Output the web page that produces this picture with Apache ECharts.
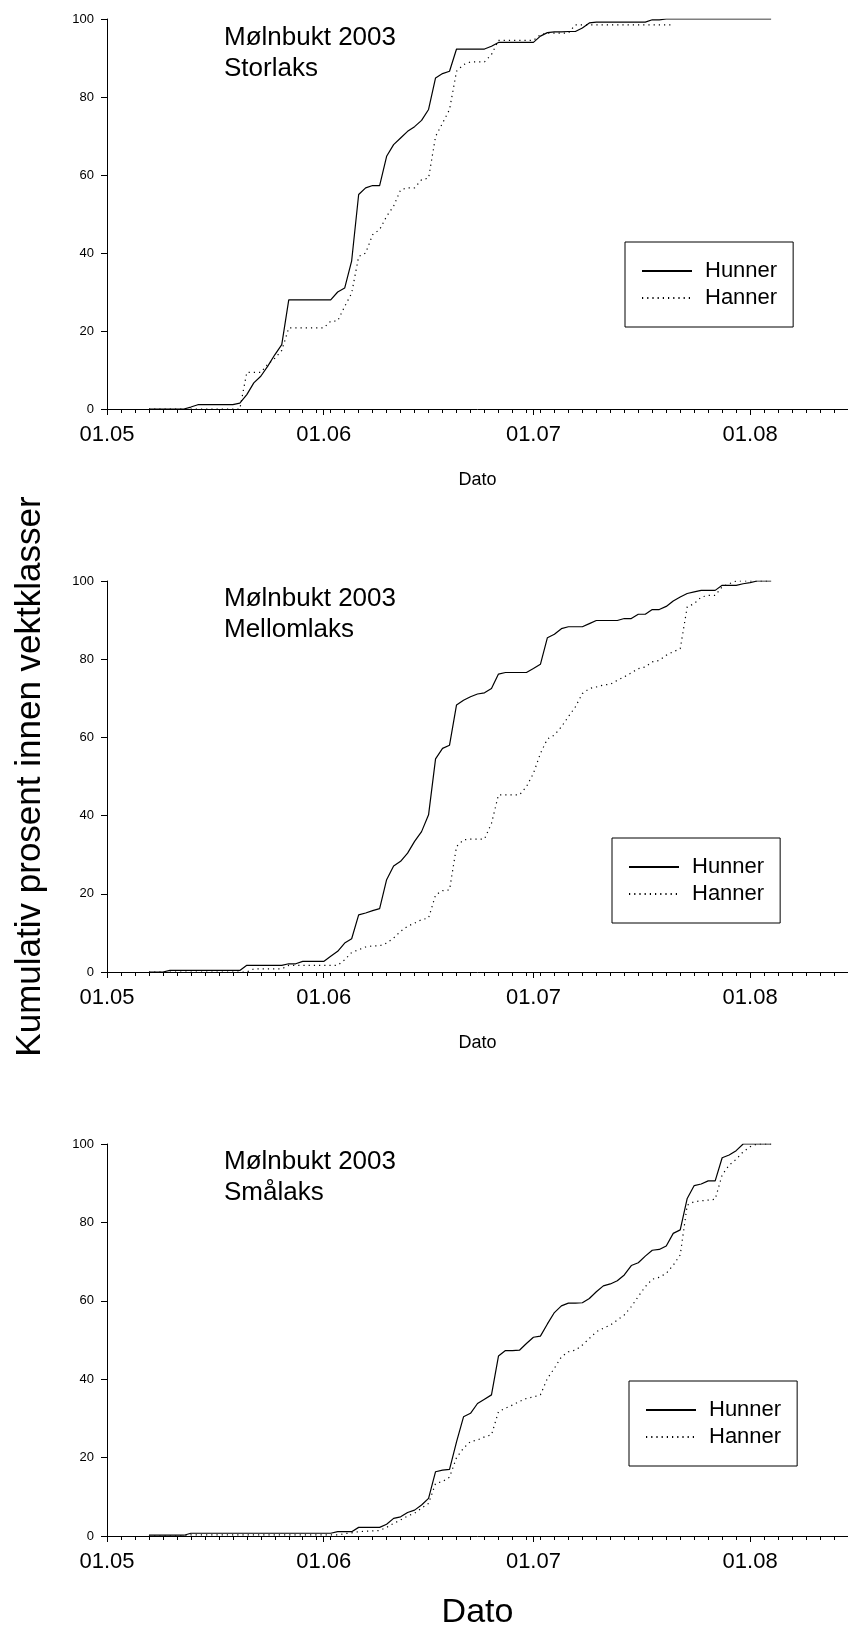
<!DOCTYPE html>
<html>
<head>
<meta charset="utf-8">
<script src="https://cdn.jsdelivr.net/npm/echarts@6/dist/echarts.min.js"></script>
<style>
  html, body { margin: 0; padding: 0; background: #fff; }
  #chart { width: 848px; height: 1632px; }
</style>
</head>
<body>
<div id="chart"></div>
<script>
  // kumulativ prosent per dag, dag 0 = 1. mai 2003
  const firstDay = 6
  const lastDay = 106
  const monthLabels = ['01.05', '01.06', '01.07', '01.08']
  const panelTitles = ['Mølnbukt 2003\nStorlaks', 'Mølnbukt 2003\nMellomlaks', 'Mølnbukt 2003\nSmålaks']

  const storHunner = [
    0, 0, 0, 0, 0, 0, 0.5, 1.1, 1.1, 1.1,
    1.1, 1.1, 1.1, 1.5, 3.7, 6.7, 8.4, 11, 13.9, 16.5,
    28, 28, 28, 28, 28, 28, 28, 30, 31, 38,
    55, 56.7, 57.3, 57.3, 64.8, 67.8, 69.5, 71.2, 72.4, 74,
    76.8, 84.9, 86, 86.6, 92.3, 92.3, 92.3, 92.3, 92.3, 93,
    94, 94, 94, 94, 94, 94, 95.6, 96.5, 96.7, 96.7,
    96.8, 96.8, 97.7, 99, 99.2, 99.2, 99.2, 99.2, 99.2, 99.2,
    99.2, 99.2, 99.8, 99.8, 100, 100, 100, 100, 100, 100,
    100, 100, 100, 100, 100, 100, 100, 100, 100, 100
  ]
  const storHanner = [
    0, 0, 0, 0, 0, 0, 0, 0, 0, 0,
    0, 0, 0, 0, 9.4, 9.4, 9.4, 11.5, 13, 15,
    20.8, 20.8, 20.8, 20.8, 20.8, 20.8, 22.5, 22.6, 26.3, 29.7,
    39.1, 40, 44.7, 46, 49.4, 52, 56.2, 56.7, 56.7, 58.8,
    59.2, 69.9, 73.3, 76.8, 86.6, 88.3, 89, 89, 89, 90.9,
    94.5, 94.5, 94.5, 94.5, 94.5, 94.5, 96, 96.4, 96.4, 96.4,
    96.4, 98.5, 98.5, 98.5, 98.5, 98.5, 98.5, 98.5, 98.5, 98.5,
    98.5, 98.5, 98.5, 98.5, 98.5, 98.5
  ]
  const mellomHunner = [
    0, 0, 0, 0.4, 0.4, 0.4, 0.4, 0.4, 0.4, 0.4,
    0.4, 0.4, 0.4, 0.4, 1.7, 1.7, 1.7, 1.7, 1.7, 1.7,
    2.1, 2.1, 2.7, 2.7, 2.7, 2.7, 4, 5.3, 7.4, 8.5,
    14.6, 15.1, 15.7, 16.2, 23.6, 27.1, 28.3, 30.4, 33.4, 35.9,
    40.2, 54.5, 57.2, 58, 68.3, 69.5, 70.4, 71.1, 71.4, 72.5,
    76.2, 76.6, 76.6, 76.6, 76.6, 77.6, 78.7, 85.5, 86.4, 87.8,
    88.3, 88.3, 88.3, 89.1, 89.9, 89.9, 89.9, 89.9, 90.4, 90.4,
    91.5, 91.5, 92.7, 92.7, 93.5, 94.9, 95.9, 96.8, 97.2, 97.6,
    97.6, 97.6, 98.9, 98.9, 98.9, 99.3, 99.6, 100, 100, 100
  ]
  const mellomHanner = [
    0, 0, 0, 0, 0, 0, 0, 0, 0, 0,
    0, 0, 0, 0, 0, 0.8, 0.8, 0.8, 0.8, 0.8,
    1.7, 1.7, 1.7, 1.7, 1.7, 1.7, 1.7, 1.7, 3.1, 5,
    5.7, 6.4, 6.7, 6.7, 7.4, 8.7, 10.4, 11.7, 12.5, 13.4,
    13.8, 19.7, 20.8, 21, 32.1, 33.8, 34, 34, 34, 38,
    45.3, 45.3, 45.3, 45.3, 47.4, 50.8, 55.9, 59.6, 60.6, 62.7,
    65.3, 67.8, 71.2, 72.5, 72.9, 73.4, 73.6, 74.6, 75.5, 76.5,
    77.6, 78, 79.3, 79.7, 81, 81.9, 82.7, 93.4, 94.2, 95.9,
    96.3, 96.3, 98.5, 99.3, 100, 100, 100, 100, 100, 100
  ]
  const smaHunner = [
    0.2, 0.2, 0.2, 0.2, 0.2, 0.2, 0.7, 0.7, 0.7, 0.7,
    0.7, 0.7, 0.7, 0.7, 0.7, 0.7, 0.7, 0.7, 0.7, 0.7,
    0.7, 0.7, 0.7, 0.7, 0.7, 0.7, 0.7, 1.1, 1.1, 1.1,
    2.2, 2.2, 2.2, 2.2, 3, 4.5, 4.9, 6, 6.6, 7.9,
    9.6, 16.4, 16.8, 17, 24, 30.4, 31.3, 33.8, 34.9, 36,
    45.9, 47.3, 47.3, 47.4, 49.1, 50.7, 51, 54.1, 57, 58.7,
    59.4, 59.4, 59.5, 60.6, 62.3, 63.8, 64.3, 65.1, 66.6, 69,
    69.7, 71.4, 72.9, 73.1, 74, 77.2, 78.1, 86.1, 89.4, 89.8,
    90.6, 90.6, 96.5, 97.2, 98.3, 100, 100, 100, 100, 100
  ]
  const smaHanner = [
    0, 0, 0, 0, 0, 0, 0.3, 0.3, 0.3, 0.3,
    0.3, 0.3, 0.3, 0.3, 0.3, 0.3, 0.3, 0.3, 0.3, 0.3,
    0.3, 0.3, 0.3, 0.3, 0.3, 0.3, 0.3, 0.3, 0.6, 0.8,
    1.1, 1.2, 1.3, 1.4, 2.2, 3.2, 4.1, 5.1, 5.8, 7.1,
    8.3, 13.4, 13.9, 15, 20, 22.4, 24.1, 24.5, 25.3, 25.8,
    31.7, 32.6, 33.4, 34.3, 35.1, 35.5, 36, 40.2, 42.8, 45.7,
    47, 47.4, 48.7, 50.4, 52.1, 53, 53.8, 55.1, 56.4, 58.5,
    61.1, 63.6, 65.5, 66, 67, 69.1, 71.7, 84.4, 85.3, 85.5,
    85.7, 85.9, 92.1, 94.6, 96.1, 98, 99.3, 100, 100, 100
  ]

  const font = "'Liberation Sans', Arial, sans-serif"
  const pad = n => (n < 10 ? '0' : '') + n
  const dayLabels = []
  for (let i = 0; i <= lastDay; i++) {
    const d = new Date(2003, 4, 1 + i)
    dayLabels.push(pad(d.getDate()) + '.' + pad(d.getMonth() + 1))
  }
  const toPoints = values => values.map((v, i) => [firstDay + i, v])

  const grids = [
    { left: 107, width: 743, top: 19, height: 390 },
    { left: 107, width: 743, top: 581, height: 391 },
    { left: 107, width: 743, top: 1144, height: 392 }
  ]
  const legendPos = [
    { left: 625, top: 242 },
    { left: 612, top: 838 },
    { left: 629, top: 1381 }
  ]
  const titleTop = [17, 578, 1141]
  const datoSize = [18, 18, 34]
  const datoGap = [62, 62, 60]
  const panels = [
    [storHunner, storHanner],
    [mellomHunner, mellomHanner],
    [smaHunner, smaHanner]
  ]

  const xAxis = []
  const yAxis = []
  const series = []
  grids.forEach((g, gi) => {
    xAxis.push({
      type: 'category',
      gridIndex: gi,
      position: 'bottom',
      data: dayLabels,
      boundaryGap: false,
      axisLine: { lineStyle: { color: '#000', width: 1 } },
      axisTick: { interval: i => i % 2 === 0, length: 4, lineStyle: { color: '#000' } },
      axisLabel: { show: false },
      name: 'Dato',
      nameLocation: 'middle',
      nameGap: datoGap[gi],
      nameTextStyle: { fontSize: datoSize[gi], color: '#000', fontFamily: font }
    })
    xAxis.push({
      type: 'category',
      gridIndex: gi,
      position: 'bottom',
      data: dayLabels,
      boundaryGap: false,
      axisLine: { show: false },
      axisTick: { interval: (i, v) => monthLabels.includes(v), length: 6, lineStyle: { color: '#000' } },
      axisLabel: {
        interval: (i, v) => monthLabels.includes(v),
        fontSize: 22,
        margin: 15,
        color: '#000',
        fontFamily: font
      }
    })
    yAxis.push({
      type: 'value',
      gridIndex: gi,
      min: 0,
      max: 100,
      interval: 20,
      axisLine: { show: true, lineStyle: { color: '#000', width: 1 } },
      axisTick: { show: true, length: 6, lineStyle: { color: '#000' } },
      splitLine: { show: false },
      axisLabel: { fontSize: 13, margin: 13, color: '#000', fontFamily: font },
      name: gi === 1 ? 'Kumulativ prosent innen vektklasser' : '',
      nameLocation: 'middle',
      nameRotate: 90,
      nameGap: 59,
      nameTextStyle: { fontSize: 35, color: '#000', fontFamily: font }
    })
    series.push({
      name: 'Hunner',
      type: 'line',
      xAxisIndex: gi * 2,
      yAxisIndex: gi,
      data: toPoints(panels[gi][0]),
      symbol: 'none',
      lineStyle: { color: '#000', width: 1.2, type: 'solid' },
      itemStyle: { color: '#000' },
      animation: false
    })
    series.push({
      name: 'Hanner',
      type: 'line',
      xAxisIndex: gi * 2,
      yAxisIndex: gi,
      data: toPoints(panels[gi][1]),
      symbol: 'none',
      lineStyle: { color: '#000', width: 1.2, type: [1.2, 4] },
      itemStyle: { color: '#000' },
      animation: false
    })
  })

  const chart = echarts.init(document.getElementById('chart'))
  chart.setOption({
    backgroundColor: '#fff',
    textStyle: { fontFamily: font },
    animation: false,
    grid: grids,
    title: panelTitles.map((t, i) => ({
      text: t,
      left: 219,
      top: titleTop[i],
      textStyle: { fontSize: 26, fontWeight: 'normal', color: '#000', lineHeight: 31, fontFamily: font }
    })),
    legend: legendPos.map(p => ({
      left: p.left,
      top: p.top,
      orient: 'vertical',
      data: ['Hunner', 'Hanner'],
      padding: [18, 16, 18, 16],
      borderColor: '#000',
      borderWidth: 1,
      itemGap: 5,
      itemWidth: 50,
      itemHeight: 14,
      selectedMode: false,
      itemStyle: { opacity: 0 },
      textStyle: { fontSize: 22, color: '#000', lineHeight: 22, padding: [0, 0, 0, 8], fontFamily: font }
    })),
    xAxis,
    yAxis,
    series
  })
</script>
</body>
</html>
